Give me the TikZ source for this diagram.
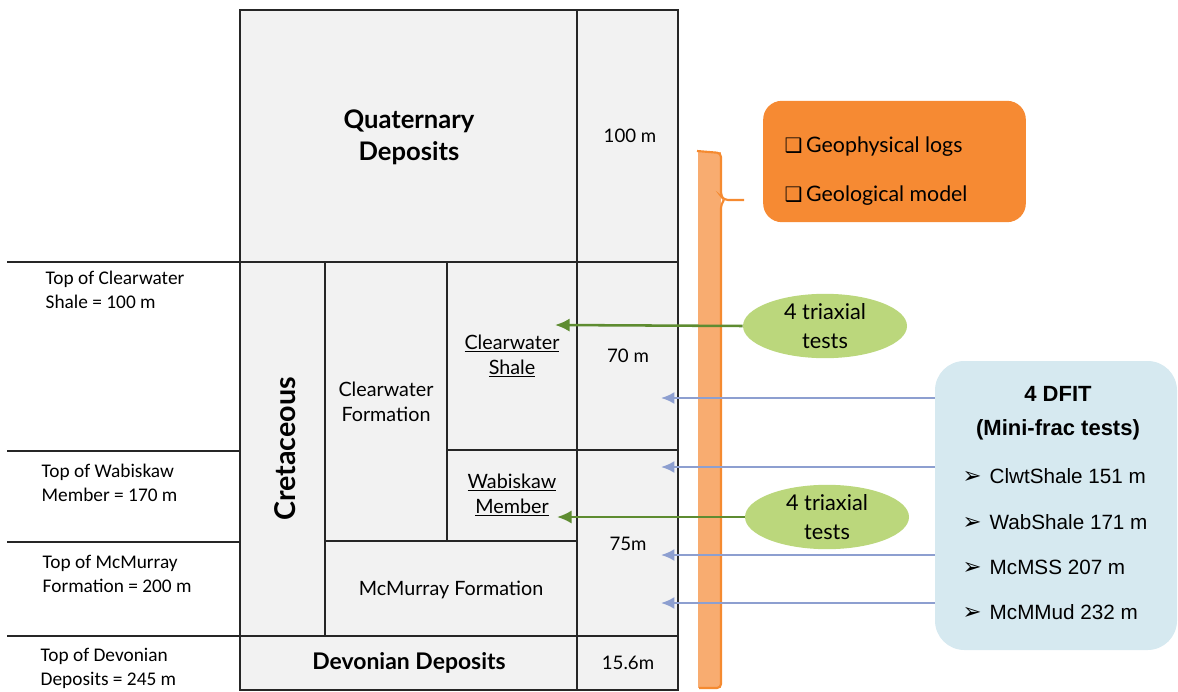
\documentclass[tikz,border=0pt]{standalone}
\usepackage{fontspec}
\usepackage{xcolor}
\usepackage{tikz}
\usetikzlibrary{shapes.geometric, arrows.meta, positioning}
\setmainfont{Lato}
\newfontfamily\calfont{Carlito}
\newfontfamily\arialfont{Liberation Sans}
\newfontfamily\symfont{DejaVu Sans}
\newcommand{\boxmark}{{\symfont\bfseries\fontsize{15}{16}\selectfont ❑}}
\newcommand{\itemmark}{{\symfont\bfseries\fontsize{17}{18}\selectfont ➢}}
\definecolor{cellgray}{HTML}{F2F2F2}
\definecolor{barfill}{HTML}{F8AC70}
\definecolor{baredge}{HTML}{F58A30}
\definecolor{dataorange}{HTML}{F68A33}
\definecolor{triagreen}{HTML}{BBD77C}
\definecolor{arrowgreen}{HTML}{5E8C31}
\definecolor{dfitblue}{HTML}{D6E9F0}
\definecolor{arrowblue}{HTML}{8D9FD0}

\begin{document}
\begin{tikzpicture}[x=0.75pt, y=-0.75pt,
    cell/.style={draw=black!85, fill=cellgray, line width=1.4pt},
    layer/.style={align=center, font=\fontsize{14.8}{19}\selectfont},
    era/.style={align=center, font=\bfseries\fontsize{19.2}{24}\selectfont},
    depth/.style={font=\fontsize{14}{17}\selectfont},
    toplabel/.style={anchor=west, align=left, font=\calfont\fontsize{14.5}{18}\selectfont},
    topline/.style={draw=black!85, line width=1pt},
    datab/.style={fill=dataorange, rounded corners=14pt, minimum width=197pt, minimum height=91pt},
    datatext/.style={align=left, font=\fontsize{16}{37}\selectfont},
    triax/.style={ellipse, fill=triagreen, minimum width=123pt, minimum height=42pt, inner sep=0pt, align=center, font=\fontsize{16.3}{22}\selectfont},
    dfitb/.style={fill=dfitblue, rounded corners=22pt, minimum width=181.5pt, minimum height=216.75pt},
    dfittitle/.style={align=center, font=\arialfont\bfseries\fontsize{16.5}{25.5}\selectfont},
    item/.style={anchor=west, font=\arialfont\fontsize{15.5}{18}\selectfont},
    garrow/.style={-{Latex[length=11pt, width=10pt]}, draw=arrowgreen, line width=1.9pt},
    barrow/.style={-{Latex[length=10pt, width=9pt]}, draw=arrowblue, line width=1.7pt}]

    \useasboundingbox (0,0) rectangle (1178,692);

    % Column cells
    \foreach \xa/\ya/\xb/\yb in {240/10/577/262, 577/10/678/262, 240/262/325/636,
        325/262/447/541, 447/262/577/450, 447/450/577/541, 325/541/577/636,
        577/262/678/450, 577/450/678/636, 240/636/577/690, 577/636/678/690}
        \draw[cell] (\xa,\ya) rectangle (\xb,\yb);

    % Layer names
    \node[era] (quat) at (409,137) {Quaternary\\Deposits};
    \node[era, rotate=90, font=\bfseries\fontsize{21.5}{24}\selectfont] (cret) at (285,449) {Cretaceous};
    \node[layer] (cwform) at (386,402) {Clearwater\\Formation};
    \node[layer] (cwshale) at (512,356) {\underline{Clearwater}\\\underline{Shale}};
    \node[layer] (wabisk) at (512,495) {\underline{Wabiskaw}\\\underline{Member}};
    \node[layer] (mcmur) at (451,590) {McMurray Formation};
    \node[era, font=\bfseries\fontsize{17.2}{20}\selectfont] (devon) at (409,663) {Devonian Deposits};

    % Thicknesses
    \node[depth] (th100) at (630,136) {100 m};
    \node[depth] (th70) at (628,356) {70 m};
    \node[depth] (th75) at (628,544) {75m};
    \node[depth] (th156) at (628,663) {15.6m};

    % Tops
    \foreach \y in {262, 451, 542, 636}
        \draw[topline] (7,\y) -- (240,\y);
    \node[toplabel] (topcw) at (41,290) {Top of Clearwater\\Shale = 100 m};
    \node[toplabel] (topwab) at (37,483) {Top of Wabiskaw\\Member = 170 m};
    \node[toplabel] (topmcm) at (38,574) {Top of McMurray\\Formation = 200 m};
    \node[toplabel] (topdev) at (36,668) {Top of Devonian\\Deposits = 245 m};

    % Borehole bar
    \fill[barfill] (698,152) rectangle (721,688);
    \draw[baredge, line width=1.6pt, rounded corners=3pt] (697,151) -- (721,153) -- (721,196) -- (724,200) -- (744,200);
    \draw[baredge, line width=1.6pt, rounded corners=3pt] (724,200) -- (721,204) -- (721,688) -- (699,688);

    % Data sources
    \node[datab] (data) at (894.5,161.5) {};
    \node[datatext, anchor=west] (datalist) at (780,171) {\boxmark\,Geophysical logs\\\boxmark\,Geological model};

    % Triaxial tests
    \node[triax] (tri1) at (825,326) {4 triaxial\\tests};
    \node[triax] (tri2) at (827,517) {4 triaxial\\tests};
    \coordinate (cwshaleend) at (555,325);
    \coordinate (wabend) at (557,517);
    \draw[garrow] (tri1.west) -- (cwshaleend);
    \draw[garrow] (tri2.west) -- (wabend);

    % DFIT
    \node[dfitb] (dfit) at (1056,505.5) {};
    \node[dfittitle] (dfithead) at (1058,413) {4 DFIT\\(Mini-frac tests)};
    \foreach \name/\y/\txt in {clwt/476/ClwtShale 151 m, wab/522/WabShale 171 m,
        mcmss/567/McMSS 207 m, mcmmud/612/McMMud 232 m}
        \node[item] (\name) at (958,\y) {\itemmark\hspace{6pt}\txt};
    \foreach \n/\y in {1/398, 2/467, 3/555, 4/603} {
        \coordinate (dfitend\n) at (661,\y);
        \draw[barrow] (dfit.west |- dfitend\n) -- (dfitend\n);
    }
\end{tikzpicture}
\end{document}
